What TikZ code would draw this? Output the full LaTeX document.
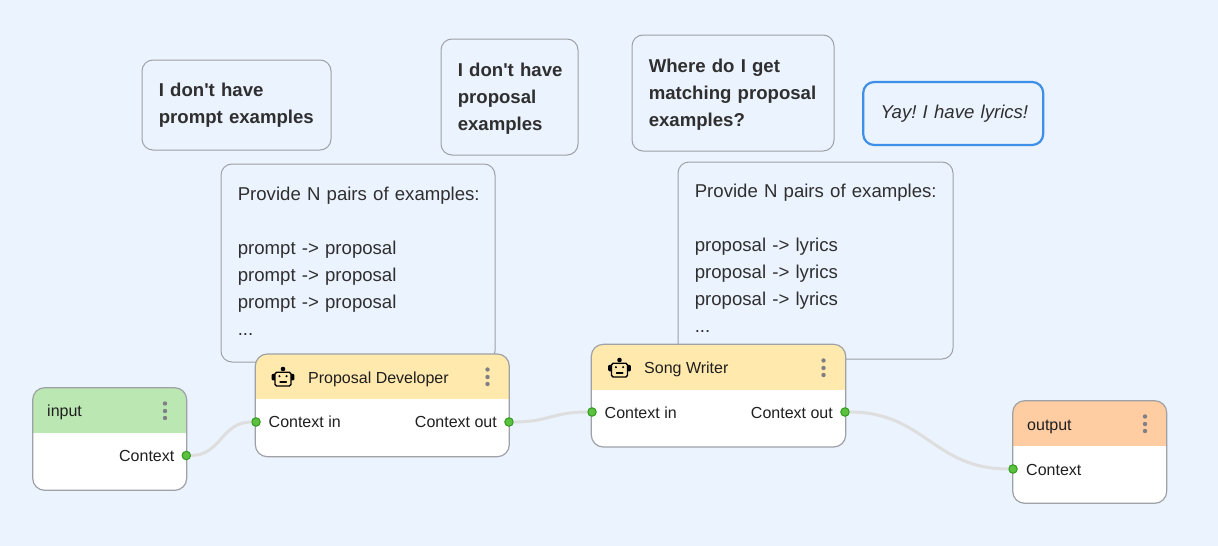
\documentclass[tikz,border=0pt]{standalone}
\usepackage{fontspec}
\setmainfont{Liberation Sans}
\newfontfamily\plainsans{Liberation Sans}
\frenchspacing
\definecolor{bgc}{HTML}{EBF3FE}
\definecolor{edgec}{HTML}{9EA1A6}
\definecolor{inkc}{HTML}{2F2F2F}
\definecolor{wirec}{HTML}{DEDEDE}
\definecolor{portf}{HTML}{5CC13F}
\definecolor{portd}{HTML}{329A1F}
\definecolor{hgreen}{HTML}{BBE7B2}
\definecolor{hyellow}{HTML}{FFE9AD}
\definecolor{horange}{HTML}{FFCDA1}
\definecolor{blueb}{HTML}{3D8FE8}
\definecolor{dotc}{HTML}{7F7F85}
\newcommand{\tl}[1]{\mbox{#1}}
\tikzset{
  x=1pt,y=-1pt,
  note/.style={draw=edgec,line width=1pt,rounded corners=11pt,fill=bgc,anchor=north west,outer sep=0pt,
    align=left,inner xsep=16.8pt,inner ysep=0pt,text=inkc,font=\plainsans\frenchspacing\fontsize{18.6}{27}\selectfont},
  cardbox/.style 2 args={draw=edgec,line width=1.2pt,rounded corners=12pt,fill=white,anchor=north west,outer sep=0pt,
    inner sep=0pt,path picture={\fill[#1,sharp corners] (path picture bounding box.north west) rectangle
      ([yshift=-#2 pt]path picture bounding box.north east);}},
  portdot/.style={circle,draw=portd,fill=portf,line width=1pt,minimum size=8.5pt,inner sep=0pt},
  wire/.style={draw=wirec,line width=3pt},
  lab/.style={inner sep=0pt,text=black!88,font=\fontsize{16}{19}\selectfont},
  dotdot/.style={circle,fill=dotc,minimum size=4.4pt,inner sep=0pt},
}
\newcommand{\menudots}[3]{%
  \node[dotdot] (#3a) at (#1,#2-7.5) {};
  \node[dotdot] (#3b) at (#1,#2) {};
  \node[dotdot] (#3c) at (#1,#2+7) {};}
\newcommand{\boticon}[2]{%
  \begin{scope}[shift={(#1,#2)},line width=1.4pt,line cap=round]
    \fill[black,rounded corners=1.2pt] (-11.3,-3.2) rectangle (-7,3.4);
    \fill[black,rounded corners=1.2pt] (11.3,-3.2) rectangle (7,3.4);
    \fill[black] (0,-8) circle (2.3pt);
    \draw[black,fill=hyellow,rounded corners=1.6pt] (-8,-4.8) rectangle (8,9);
    \fill[black] (-3.6,-0.8) circle (1.15pt);
    \fill[black] (3.6,-0.8) circle (1.15pt);
    \draw[black,line width=1.1pt] (-3,5) -- (3.4,5);
  \end{scope}}
\begin{document}
\begin{tikzpicture}
\useasboundingbox (0,0) rectangle (1218,546);
\fill[bgc] (0,0) rectangle (1218,546);

% notes
\node[note,text width=155.4pt,minimum height=90pt] (n1) at (142,60)
  {\tl{\textbf{I don't have}}\\\tl{\textbf{prompt examples}}};
\node[note,text width=103.4pt,minimum height=116pt] (n2) at (441,39)
  {\tl{\rule{0pt}{16pt}\textbf{I don't have}}\\\tl{\textbf{proposal}}\\\tl{\textbf{examples}}};
\node[note,text width=168.4pt,minimum height=116pt] (n3) at (632,35)
  {\tl{\rule{0pt}{16pt}\textbf{Where do I get}}\\\tl{\textbf{matching proposal}}\\\tl{\textbf{examples?}}};
\node[note,draw=blueb,line width=2.2pt,inner xsep=17.5pt,text width=145pt,minimum height=63pt] (n4) at (863.2,82)
  {\tl{\textit{Yay! I have lyrics!}}};
\node[note,text width=240.4pt,minimum height=198pt] (n5) at (221,164)
  {\tl{Provide N pairs of examples:}\\[27pt]\tl{prompt -> proposal}\\\tl{prompt -> proposal}\\\tl{prompt -> proposal}\\...\\[-23pt]\mbox{}};
\node[note,text width=241.4pt,minimum height=197pt] (n6) at (678,162)
  {\tl{Provide N pairs of examples:}\\[27pt]\tl{proposal -> lyrics}\\\tl{proposal -> lyrics}\\\tl{proposal -> lyrics}\\...\\[-23pt]\mbox{}};

% cards
\node[cardbox={hgreen}{45.3},minimum width=154pt,minimum height=102.6pt] (cinput) at (32.7,387.7) {};
\node[cardbox={hyellow}{45.3},minimum width=254pt,minimum height=102.7pt] (cprop) at (255.3,354) {};
\node[cardbox={hyellow}{45.3},minimum width=254.4pt,minimum height=102.7pt] (csong) at (591.3,344.3) {};
\node[cardbox={horange}{45.3},minimum width=154pt,minimum height=102.6pt] (coutput) at (1012.7,400.7) {};

% titles
\node[lab,anchor=base west] (tinput) at (47,416.7) {input};
\node[lab,anchor=base west] (tprop) at (308,383) {Proposal Developer};
\node[lab,anchor=base west] (tsong) at (644,373.5) {Song Writer};
\node[lab,anchor=base west] (toutput) at (1027,430) {output};
\menudots{165}{411}{di}
\menudots{487.5}{377}{dp}
\menudots{823.5}{368}{ds}
\menudots{1145}{424}{do}
\boticon{283}{377}
\boticon{619.5}{368}

% port labels
\node[lab,anchor=base east] (linctx) at (174.5,461.5) {Context};
\node[lab,anchor=base west] (lpin) at (268.5,427.7) {Context in};
\node[lab,anchor=base east] (lpout) at (497,427.7) {Context out};
\node[lab,anchor=base west] (lsin) at (604.5,418.2) {Context in};
\node[lab,anchor=base east] (lsout) at (833,418.2) {Context out};
\node[lab,anchor=base west] (loctx) at (1026,475) {Context};

% ports
\node[portdot] (pi) at (186.3,455.5) {};
\node[portdot] (ppi) at (256,422) {};
\node[portdot] (ppo) at (509,422) {};
\node[portdot] (psi) at (592,412) {};
\node[portdot] (pso) at (845,412) {};
\node[portdot] (poi) at (1013,469) {};

% connectors
\draw[wire] (pi.east) .. controls +(30,0) and +(-30,0) .. (ppi.west);
\draw[wire] (ppo.east) .. controls +(35,0) and +(-35,0) .. (psi.west);
\draw[wire] (pso.east) .. controls +(75,0) and +(-75,0) .. (poi.west);
\end{tikzpicture}
\end{document}
